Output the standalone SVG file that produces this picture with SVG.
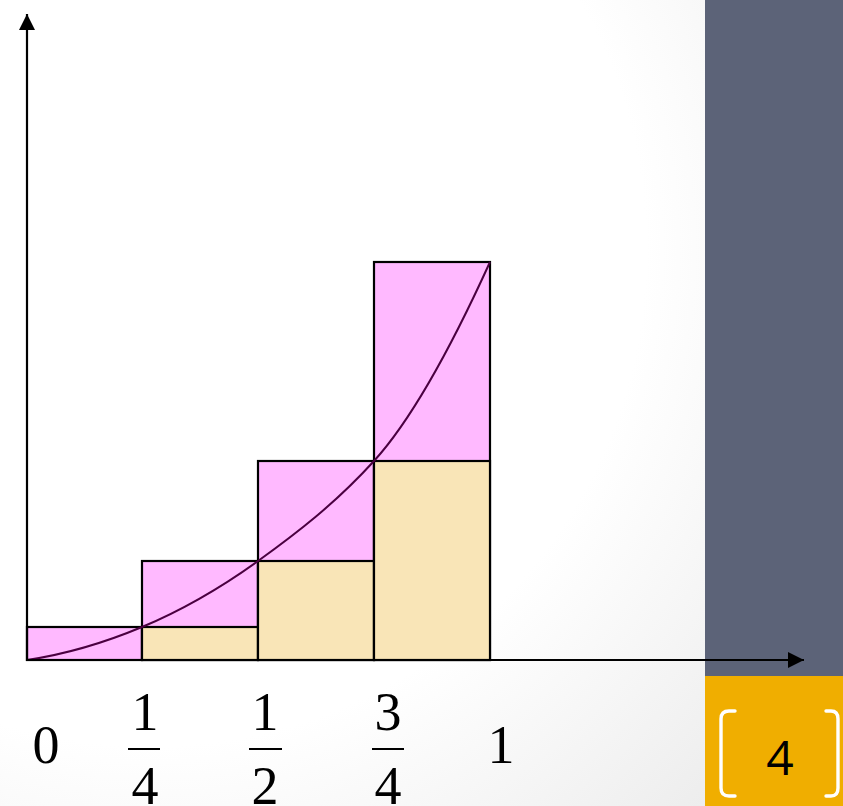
<svg xmlns="http://www.w3.org/2000/svg" width="843" height="806" viewBox="0 0 843 806">
<defs>
<radialGradient id="bg" gradientUnits="userSpaceOnUse" cx="150" cy="250" r="800">
<stop offset="0.62" stop-color="#ffffff"/>
<stop offset="1" stop-color="#ececec"/>
</radialGradient>
<marker id="arr" viewBox="0 0 16 16" refX="16" refY="8" markerWidth="16" markerHeight="16" markerUnits="userSpaceOnUse" orient="auto">
<path d="M0,0 L16,8 L0,16 Z" fill="#000"/>
</marker>
<style>
.pink{fill:#ffb9ff;stroke:#000;stroke-width:2.2}
.tan{fill:#f9e5b7;stroke:#000;stroke-width:2.2}
.lbl{font-family:"Liberation Serif","Times New Roman",serif;font-size:54px;fill:#000;text-anchor:middle}
.bar{stroke:#000;stroke-width:2}
.brk{fill:none;stroke:#fff;stroke-width:3.4;stroke-linecap:round}
</style>
</defs>
<rect x="0" y="0" width="843" height="806" fill="url(#bg)"/>
<g id="side-panel">
<rect x="705" y="0" width="138" height="676" fill="#5c6378"/>
</g>
<g id="bars">
<rect class="pink" x="27" y="627" width="115" height="33"/>
<rect class="pink" x="142" y="561" width="116" height="99"/>
<rect class="tan" x="142" y="627" width="116" height="33"/>
<rect class="pink" x="258" y="461" width="116" height="199"/>
<rect class="tan" x="258" y="561" width="116" height="99"/>
<rect class="pink" x="374" y="262" width="116" height="398"/>
<rect class="tan" x="374" y="461" width="116" height="199"/>
</g>
<g id="curve">
<path d="M27,660 C65.33,654.25 103.67,643.1 142,627 C180.67,610.76 219.33,588.84 258,561 C296.67,533.16 335.33,503.53 374,461 C412.67,418.47 451.33,347.07 490,262" fill="none" stroke="#4a0040" stroke-width="2"/>
</g>
<g id="connectors">
<line x1="27" y1="661" x2="27" y2="14" stroke="#000" stroke-width="2.2" marker-end="url(#arr)"/>
<line x1="26" y1="660" x2="804" y2="660" stroke="#000" stroke-width="2.2" marker-end="url(#arr)"/>
</g>
<g id="labels">
<text class="lbl" x="46" y="763">0</text>
<text class="lbl" x="145" y="730">1</text>
<line class="bar" x1="128" y1="749" x2="160" y2="749"/>
<text class="lbl" x="145" y="804">4</text>
<text class="lbl" x="265" y="730">1</text>
<line class="bar" x1="249" y1="749" x2="282" y2="749"/>
<text class="lbl" x="265" y="804">2</text>
<text class="lbl" x="388" y="730">3</text>
<line class="bar" x1="372" y1="749" x2="404" y2="749"/>
<text class="lbl" x="388" y="804">4</text>
<text class="lbl" x="501" y="763">1</text>
</g>
<g id="page-badge">
<rect x="705" y="676" width="138" height="130" fill="#f0ae00"/>
<path class="brk" d="M735,711 H729 Q721,711 721,719 V788 Q721,796 729,796 H735"/>
<path class="brk" d="M826,711 H831 Q838,711 838,719 V788 Q838,796 831,796 H826"/>
<text x="780" y="775" font-family="'Open Sans','Liberation Sans',Arial,sans-serif" font-size="48" text-anchor="middle" fill="#000">4</text>
</g>
</svg>
